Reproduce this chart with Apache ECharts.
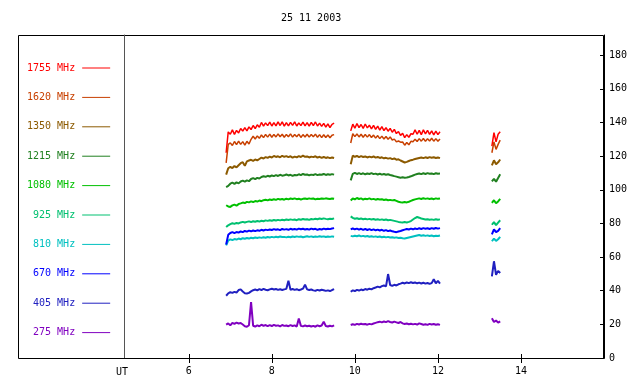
<!DOCTYPE html>
<html><head><meta charset="utf-8">
<script src="https://cdn.jsdelivr.net/npm/echarts@6/dist/echarts.min.js"></script>
<style>html,body{margin:0;padding:0;background:#fff}#c{width:640px;height:384px}</style>
</head><body><div id="c"></div>
<script>
const chartTitle = '25 11 2003';
const xTicks = [6, 8, 10, 12, 14];
const yTicks = [0, 20, 40, 60, 80, 100, 120, 140, 160, 180];
const names = ['1755 MHz', '1620 MHz', '1350 MHz', '1215 MHz', '1080 MHz', '925 MHz', '810 MHz', '670 MHz', '405 MHz', '275 MHz'];
const colors = ['#ff0000', '#c84000', '#8c5a00', '#208020', '#00c000', '#00c070', '#00c0c0', '#0000ff', '#2020c0', '#8000c0'];
const widths = [1.5, 1.5, 2, 2, 2, 2, 2, 2, 2, 2];

const ut = [
6.90,6.95,7.00,7.05,7.10,7.15,7.20,7.25,7.30,7.35,
7.40,7.45,7.50,7.55,7.60,7.65,7.70,7.75,7.80,7.85,
7.90,7.95,8.00,8.05,8.10,8.15,8.20,8.25,8.30,8.35,
8.40,8.45,8.50,8.55,8.60,8.65,8.70,8.75,8.80,8.85,
8.90,8.95,9.00,9.05,9.10,9.15,9.20,9.25,9.30,9.35,
9.40,9.45,9.50,
9.70,
9.90,9.95,10.00,10.05,10.10,10.15,10.20,10.25,10.30,10.35,
10.40,10.45,10.50,10.55,10.60,10.65,10.70,10.75,10.80,10.85,
10.90,10.95,11.00,11.05,11.10,11.15,11.20,11.25,11.30,11.35,
11.40,11.45,11.50,11.55,11.60,11.65,11.70,11.75,11.80,11.85,
11.90,11.95,12.00,12.05,
12.70,
13.30,13.35,13.40,13.45,13.50
];

const f1755 = [
122.0,134.4,133.0,135.6,132.9,135.3,133.8,136.4,134.9,136.9,
135.0,137.4,135.8,138.2,136.4,138.6,137.2,140.0,137.9,139.8,
138.1,140.2,137.9,139.9,138.0,140.3,138.2,140.4,137.8,139.9,
138.0,140.1,138.3,140.4,137.9,139.8,138.1,140.2,138.0,139.9,
137.8,140.1,138.2,140.3,137.9,139.6,137.7,139.5,137.2,139.2,
137.0,138.9,139.6,
null,
135.0,139.0,136.6,139.4,136.9,138.8,136.5,139.1,136.8,138.4,
136.2,138.3,135.9,137.8,135.5,137.5,135.2,136.9,134.8,136.5,
134.2,135.9,133.4,134.6,132.3,133.6,131.0,132.8,131.2,133.3,
133.0,135.6,133.0,135.3,132.8,135.6,133.2,135.3,132.9,135.0,
132.6,134.8,132.8,134.5,
null,
126.0,134.0,128.5,133.0,134.5
];
const f1620 = [
116.0,127.0,127.9,126.3,128.7,126.8,128.9,127.0,128.6,126.6,
128.8,127.2,130.0,131.8,130.2,132.0,130.6,132.6,131.0,132.9,
131.3,133.1,131.2,132.9,131.4,133.2,131.5,133.0,131.2,132.9,
131.5,133.2,131.3,132.9,131.5,133.1,131.1,132.8,131.4,133.0,
131.3,132.9,131.5,133.1,131.2,132.8,131.0,132.7,131.1,132.6,
130.9,132.4,132.8,
null,
127.8,133.3,131.6,133.2,131.4,133.0,131.2,132.9,131.3,132.8,
131.1,132.5,130.7,132.2,130.4,131.9,130.2,131.7,130.0,131.4,
129.6,130.1,128.5,129.0,128.3,128.4,126.5,128.1,126.7,128.8,
128.5,130.1,128.7,130.4,128.9,130.5,128.8,130.3,129.0,130.6,
128.9,130.4,128.8,130.2,
null,
122.0,128.5,124.0,127.0,129.5
];
const f1350 = [
109.0,112.8,113.6,112.9,114.1,113.3,114.6,115.8,116.4,114.2,
116.9,117.4,117.8,117.2,118.0,117.5,118.3,119.1,118.6,119.4,
119.0,119.7,119.2,120.1,119.5,119.9,119.3,120.2,119.6,120.0,
119.4,119.9,119.1,119.7,119.3,120.0,119.5,120.3,119.6,119.8,
119.2,119.7,119.4,119.9,119.1,119.6,119.0,119.5,118.9,119.3,
118.8,119.2,118.9,
null,
115.2,120.3,119.6,120.1,119.4,120.0,119.5,119.8,119.2,119.7,
119.3,119.8,119.1,119.5,118.9,119.3,118.7,119.0,118.5,118.8,
118.2,118.6,117.9,118.1,117.4,116.8,116.2,116.6,117.1,117.6,
117.9,118.3,118.6,118.9,119.2,118.8,119.3,118.9,119.4,119.0,
119.3,118.9,119.2,118.8,
null,
114.5,117.5,115.2,116.3,118.0
];
const f1215 = [
101.6,102.3,103.6,104.2,103.5,104.4,103.8,104.9,105.4,104.8,
105.6,105.1,106.4,106.9,106.3,107.1,106.7,107.6,108.0,107.7,
108.3,107.9,108.5,108.1,108.7,108.2,108.9,108.4,108.6,109.1,
108.5,108.9,108.3,108.8,108.6,109.2,108.7,109.4,108.9,109.1,
108.6,109.0,108.8,109.3,108.7,109.1,108.9,109.4,108.8,109.2,
108.9,109.3,109.0,
null,
105.6,109.5,110.1,109.4,109.9,109.3,109.8,109.2,109.7,109.4,
109.9,109.3,109.6,109.1,109.5,109.0,109.4,108.9,109.2,108.8,
108.5,108.1,107.8,107.5,107.2,107.4,107.1,107.3,107.6,108.0,
108.5,109.0,109.4,109.7,109.3,109.8,109.4,109.9,109.5,109.7,
109.3,109.8,109.5,109.6,
null,
105.0,106.5,104.8,107.0,109.2
];
const f1080 = [
90.8,90.1,89.8,90.7,91.2,90.6,91.5,91.9,92.4,92.1,
92.8,92.5,93.1,92.7,93.3,93.0,93.6,93.2,93.8,94.1,
93.7,94.2,93.9,94.4,94.0,94.6,94.2,94.5,94.1,94.7,
94.3,94.8,94.5,94.9,94.4,94.7,94.2,94.6,94.8,94.5,
94.9,94.6,94.8,94.3,94.7,94.5,94.8,94.6,94.9,94.7,
94.5,94.8,94.6,
null,
93.6,94.8,94.3,95.1,94.5,94.9,94.2,94.7,94.4,94.9,
94.3,94.6,94.1,94.5,94.2,94.4,93.9,94.2,93.8,94.0,
93.7,93.9,93.4,92.9,92.6,92.4,92.7,92.5,92.9,93.4,
93.9,94.3,94.6,94.9,94.5,95.0,94.6,94.9,94.5,94.8,
94.4,94.9,94.6,94.8,
null,
92.2,93.8,92.0,93.1,94.6
];
const f925 = [
77.8,78.9,79.6,80.1,79.7,80.3,80.0,80.6,80.9,80.5,
80.9,81.2,80.8,81.3,81.0,81.4,81.1,81.6,81.3,81.8,
81.5,81.9,81.6,82.0,81.7,82.1,81.8,82.2,81.9,82.3,
82.0,82.4,82.1,82.3,81.9,82.5,82.2,82.6,82.3,82.5,
82.1,82.6,82.4,82.8,82.5,82.9,82.6,83.0,82.7,82.5,
82.8,82.6,83.0,
null,
84.2,83.3,82.8,83.1,82.6,82.9,82.5,82.8,82.4,82.7,
82.3,82.6,82.2,82.5,82.1,82.4,82.0,82.3,81.9,82.1,
81.8,81.5,81.2,80.9,80.7,80.6,80.8,80.6,80.9,81.4,
82.3,83.2,83.8,83.4,82.9,82.6,82.3,82.5,82.2,82.4,
82.1,82.5,82.2,82.4,
null,
79.2,80.8,79.0,80.5,81.9
];
const f810 = [
67.0,69.8,70.5,70.1,70.7,70.4,71.0,70.6,71.2,70.9,
71.3,71.0,71.5,71.2,71.6,71.3,71.7,71.4,71.8,71.5,
71.9,71.6,72.0,71.7,72.1,71.8,72.2,71.9,72.0,71.7,
72.1,71.8,72.2,71.9,72.3,72.0,72.2,71.8,72.1,72.4,
72.0,72.3,71.9,72.2,72.0,72.4,72.1,72.3,71.9,72.2,
72.0,72.3,72.1,
null,
72.6,72.3,72.7,72.4,72.8,72.3,72.6,72.2,72.5,72.1,
72.4,72.0,72.3,71.9,72.2,71.8,72.1,71.7,72.0,71.6,
71.8,71.5,71.7,71.3,71.5,71.2,71.0,71.3,71.6,71.9,
72.2,72.5,72.8,73.1,72.7,73.0,72.6,72.9,72.5,72.8,
72.4,72.7,72.5,72.8,
null,
69.4,71.0,69.6,70.6,72.0
];
const f670 = [
67.5,73.2,74.3,74.8,74.2,74.9,74.5,75.2,74.8,75.5,
75.1,75.7,75.3,75.8,75.4,75.9,75.6,76.2,75.8,76.3,
76.0,76.4,76.1,76.6,76.2,76.5,76.0,76.7,76.3,76.6,
76.2,76.8,76.4,76.7,76.3,76.9,76.5,76.8,76.4,76.7,
76.3,76.9,76.5,76.8,76.2,76.7,76.4,76.9,76.5,76.8,
76.6,77.0,77.2,
null,
76.4,77.0,76.5,76.9,76.3,76.8,76.2,76.7,76.1,76.6,
76.0,76.5,75.9,76.3,75.8,76.2,75.6,76.0,75.4,75.8,
75.3,75.0,74.8,75.2,75.5,75.9,76.3,76.7,76.4,76.9,
76.5,77.0,76.6,77.1,76.7,77.2,76.8,77.1,76.7,77.2,
76.8,77.3,76.9,77.2,
null,
73.5,76.5,74.8,75.6,77.2
];
const f405 = [
37.0,38.4,39.1,38.7,39.3,38.9,40.4,40.8,39.5,38.5,
38.3,38.7,39.6,40.3,40.7,40.2,40.9,40.4,41.1,40.6,
40.3,40.8,41.2,40.7,41.0,40.5,40.9,40.4,40.8,41.1,
45.9,40.6,41.0,40.5,40.9,40.3,40.7,41.2,43.6,40.8,
40.4,40.7,40.2,40.0,40.5,40.1,40.6,40.3,39.9,40.2,
39.8,40.4,40.9,
null,
39.4,40.2,39.8,40.5,40.1,40.7,40.3,41.0,40.6,41.2,
40.8,41.5,41.9,42.4,42.0,42.7,43.1,42.6,49.9,43.4,
42.9,43.5,43.1,43.8,44.2,44.7,44.3,44.9,44.5,45.0,
44.6,44.9,44.4,44.8,44.3,44.7,44.2,44.6,44.1,44.5,
46.8,44.4,45.9,44.2,
null,
48.5,57.5,49.5,51.8,50.5
];
const f275 = [
19.8,20.6,19.4,20.9,20.3,21.0,20.5,20.8,19.9,18.9,
18.6,19.5,33.3,19.2,18.7,19.4,18.9,19.8,19.1,19.6,
18.9,19.5,19.0,19.7,19.2,19.4,18.8,19.6,19.1,19.3,
18.9,19.5,19.0,19.4,18.7,23.5,19.1,18.8,19.3,18.9,
19.2,18.7,19.1,18.6,19.4,18.9,19.3,21.6,19.0,18.7,
19.2,18.8,19.4,
null,
19.6,20.1,19.7,20.3,19.9,20.4,20.0,20.2,19.8,20.3,
20.0,20.5,20.9,21.3,21.6,21.2,21.7,21.3,21.9,21.4,
21.1,21.6,21.2,20.8,21.4,20.6,20.2,20.5,20.1,20.4,
20.0,20.3,19.9,20.6,20.2,19.8,20.1,19.7,20.3,19.9,
20.2,19.8,20.1,19.7,
null,
23.6,21.4,22.3,21.0,21.8
];

const values = [f1755, f1620, f1350, f1215, f1080, f925, f810, f670, f405, f275];
const FONT = 'DejaVu Sans Mono';

const series = values.map((vals, k) => ({
  name: names[k],
  type: 'line',
  xAxisIndex: 0,
  yAxisIndex: 0,
  showSymbol: false,
  symbol: 'none',
  connectNulls: false,
  color: colors[k],
  lineStyle: { color: colors[k], width: widths[k] },
  data: ut.map((t, i) => [t, vals[i] == null ? '-' : vals[i]]),
  animation: false,
  silent: true
}));

const chart = echarts.init(document.getElementById('c'), null, { renderer: 'canvas' });
chart.setOption({
  animation: false,
  backgroundColor: '#fff',
  title: {
    text: chartTitle, left: 281, top: 13, padding: 0,
    textStyle: { fontFamily: FONT, fontSize: 10, fontWeight: 'normal', color: '#000' }
  },
  legend: {
    orient: 'vertical', left: 27, top: 63, padding: 0, itemGap: 19.4,
    align: 'right', icon: 'rect', itemWidth: 28, itemHeight: 1,
    selectedMode: false,
    textStyle: { fontFamily: FONT, fontSize: 10, padding: [0, 2, 0, 0] },
    data: names.map((n, i) => ({ name: n, itemStyle: { color: colors[i] }, textStyle: { color: colors[i] } }))
  },
  grid: { left: 124, top: 35, right: 36, bottom: 26, containLabel: false, outerBoundsMode: 'none' },
  xAxis: [
    {
      type: 'value', min: 4.44, max: 16, position: 'bottom',
      axisLine: { show: true, lineStyle: { color: '#000', width: 1 } },
      axisTick: { show: true, inside: true, length: 4, customValues: xTicks, lineStyle: { color: '#000' } },
      axisLabel: { show: true, customValues: xTicks, color: '#000', fontFamily: FONT, fontSize: 10, margin: 8 },
      splitLine: { show: false }
    },
    {
      type: 'value', min: 4.44, max: 16, position: 'top',
      axisLine: { show: true, lineStyle: { color: '#000', width: 1 } },
      axisTick: { show: true, inside: true, length: 5, customValues: xTicks, lineStyle: { color: '#000' } },
      axisLabel: { show: false },
      splitLine: { show: false }
    }
  ],
  yAxis: [
    {
      type: 'value', min: 0, max: 192, position: 'right',
      axisLine: { show: true, lineStyle: { color: '#000', width: 1 } },
      axisTick: { show: true, inside: true, length: 4, customValues: yTicks, lineStyle: { color: '#000' } },
      axisLabel: { show: true, customValues: yTicks, color: '#000', fontFamily: FONT, fontSize: 10, margin: 5 },
      splitLine: { show: false }
    },
    {
      type: 'value', min: 0, max: 192, position: 'left',
      axisLine: { show: true, lineStyle: { color: '#555', width: 1 } },
      axisTick: { show: false },
      axisLabel: { show: false },
      splitLine: { show: false }
    }
  ],
  graphic: [
    { type: 'rect', silent: true, z: 0, shape: { x: 18.5, y: 35.5, width: 585, height: 323 },
      style: { fill: 'none', stroke: '#000', lineWidth: 1 } },
    { type: 'text', silent: true, x: 122, y: 372,
      style: { text: 'UT', fill: '#000', font: '10px "DejaVu Sans Mono"', align: 'center', verticalAlign: 'middle', textAlign: 'center', textVerticalAlign: 'middle' } }
  ],
  series: series
});
</script>
</body></html>
